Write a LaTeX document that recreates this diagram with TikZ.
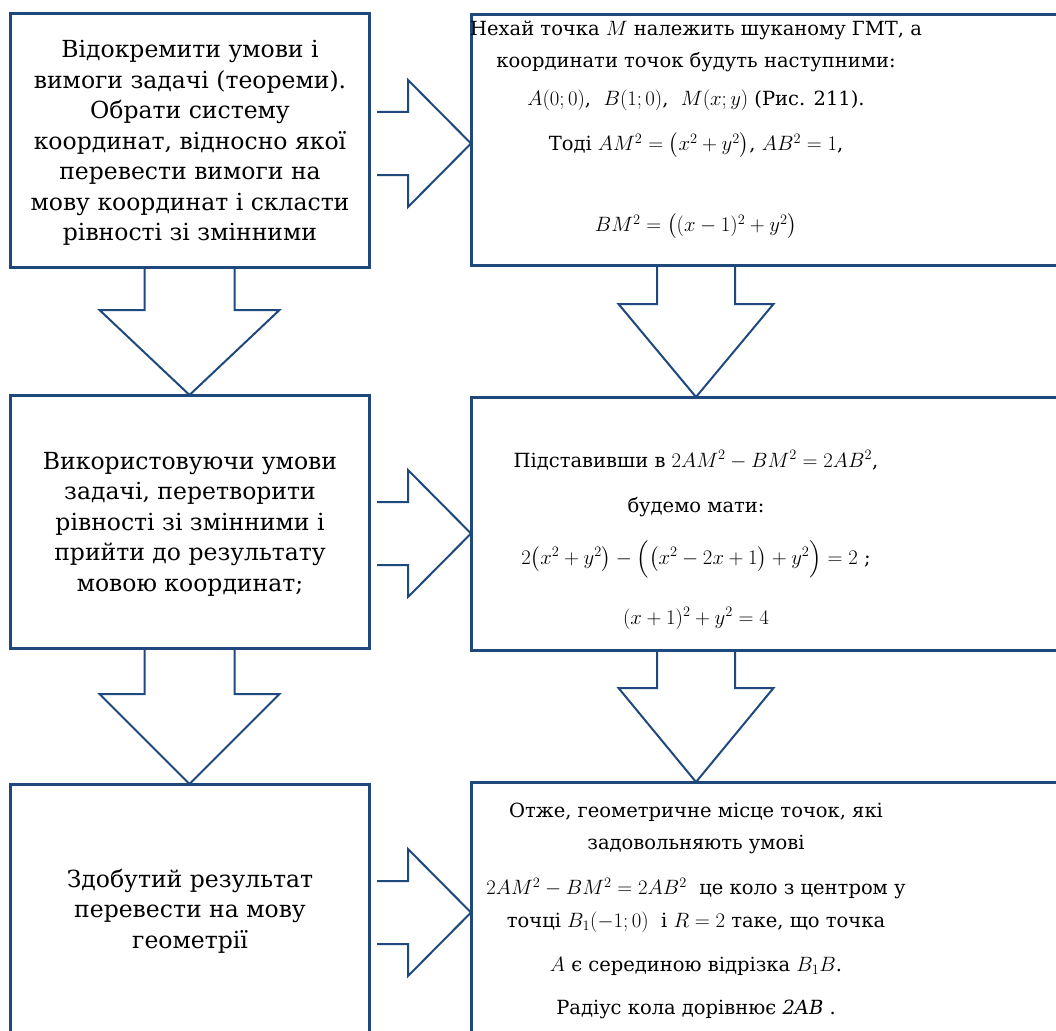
\documentclass[tikz,border=0pt]{standalone}
\usepackage{amsmath}
\usepackage{fontspec}
\setmainfont{DejaVu Serif}
\usepackage{tikz}
\usetikzlibrary{calc}

\definecolor{boxblue}{RGB}{31,73,125}
\newcommand\fixedlines{\setlength{\lineskiplimit}{-100pt}\setlength{\lineskip}{0pt}}

\begin{document}
\begin{tikzpicture}[x=1pt,y=-1pt,
        box/.style={draw=boxblue,line width=3pt,inner sep=0pt,outer sep=0pt},
        blockarrow/.style={draw=boxblue,line width=2pt},
        txt/.style={align=center,inner sep=0pt,
            font=\fontsize{23.5}{30.5}\selectfont,execute at begin node=\fixedlines},
        rtxt/.style={txt,font=\fontsize{19.5}{30.5}\selectfont}]
        \useasboundingbox (0,0) rectangle (1056,1030);
        \clip (0,0) rectangle (1056,1030);

        % Boxes
        \node [box,minimum width=359pt,minimum height=253pt] (l1) at (189.5,140.5) {};
        \node [box,minimum width=359pt,minimum height=253pt] (l2) at (189.5,521.5) {};
        \node [box,minimum width=359pt,minimum height=252pt] (l3) at (189.5,910) {};
        \node [box,minimum width=604pt,minimum height=250pt] (r1) at (773,140) {};
        \node [box,minimum width=604pt,minimum height=253pt] (r2) at (773,523.5) {};
        \node [box,minimum width=604pt,minimum height=254pt] (r3) at (773,909) {};

        % Texts
        \node [txt] (l1t) at (190,143) {Відокремити умови і\\вимоги задачі (теореми).\\
            Обрати систему\\координат, відносно якої\\перевести вимоги на\\
            мову координат і скласти\\рівності зі змінними};
        \node [txt] (l2t) at (190,524) {Використовуючи умови\\задачі, перетворити\\
            рівності зі змінними і\\прийти до результату\\мовою координат;};
        \node [txt] (l3t) at (190,911) {Здобутий результат\\перевести на мову\\геометрії};

        \node [rtxt] (r1t) at (696,130) {Нехай точка $M$ належить шуканому ГМТ, а\\[1.5pt]
            координати точок будуть наступними:\\[7.5pt]
            $A(0;0)$, \ $B(1;0)$, \ $M(x;y)$ (Рис. 211).\\[14.5pt]
            Тоді $AM^2=\bigl(x^2+y^2\bigr)$, $AB^2=1$,\\[50.5pt]
            $BM^2=\bigl((x-1)^2+y^2\bigr)$};
        \node [rtxt] (r2t) at (696,540) {Підставивши в $2AM^2-BM^2=2AB^2$,\\[14.5pt]
            будемо мати:\\[21.5pt]
            $2\bigl(x^2+y^2\bigr)-\Bigl(\bigl(x^2-2x+1\bigr)+y^2\Bigr)=2$ ;\\[29.5pt]
            $(x+1)^2+y^2=4$};
        \node [rtxt] (r3t) at (696,911) {Отже, геометричне місце точок, які\\[1.5pt]
            задовольняють умові\\[14.5pt]
            $2AM^2-BM^2=2AB^2$ \ це коло з центром у\\[2.5pt]
            точці $B_1(-1;0)$ \ і $R=2$ таке, що точка\\[13.5pt]
            $A$ є серединою відрізка $B_1B$.\\[12.5pt]
            Радіус кола дорівнює \textit{2AB} .};

        % Right arrows
        \coordinate (t1) at ($(r1.west)+(0,3.5)$);
        \draw [blockarrow] ($(l1.east |- t1)+(8,-31.5)$) -- ($(t1)+(-63,-31.5)$) -- ++(0,-32)
            -- (t1) -- ++(-63,63.5) -- ++(0,-32) -- ($(l1.east |- t1)+(8,31.5)$);
        \coordinate (t2) at ($(r2.west)+(0,10)$);
        \draw [blockarrow] ($(l2.east |- t2)+(8,-31.5)$) -- ($(t2)+(-63,-31.5)$) -- ++(0,-32)
            -- (t2) -- ++(-63,63.5) -- ++(0,-32) -- ($(l2.east |- t2)+(8,31.5)$);
        \coordinate (t3) at ($(r3.west)+(0,3.5)$);
        \draw [blockarrow] ($(l3.east |- t3)+(8,-31.5)$) -- ($(t3)+(-63,-31.5)$) -- ++(0,-32)
            -- (t3) -- ++(-63,63.5) -- ++(0,-32) -- ($(l3.east |- t3)+(8,31.5)$);

        % Down arrows
        \draw [blockarrow] ($(l1.south)+(-45,0)$) -- ($(l2.north)+(-45,-85)$) -- ++(-45,0)
            -- (l2.north) -- ++(90,-85) -- ++(-45,0) -- ($(l1.south)+(45,0)$);
        \draw [blockarrow] ($(l2.south)+(-45,0)$) -- ($(l3.north)+(-45,-90)$) -- ++(-45,0)
            -- (l3.north) -- ++(90,-90) -- ++(-45,0) -- ($(l2.south)+(45,0)$);
        \draw [blockarrow] ($(r1t |- r1.south)+(-39,0)$) -- ($(r1t |- r2.north)+(-39,-93)$)
            -- ++(-38.5,0) -- (r1t |- r2.north) -- ++(77.5,-93) -- ++(-38.5,0)
            -- ($(r1t |- r1.south)+(39,0)$);
        \draw [blockarrow] ($(r2t |- r2.south)+(-39,0)$) -- ($(r2t |- r3.north)+(-39,-94)$)
            -- ++(-38.5,0) -- (r2t |- r3.north) -- ++(77.5,-94) -- ++(-38.5,0)
            -- ($(r2t |- r2.south)+(39,0)$);
    \end{tikzpicture}
\end{document}
